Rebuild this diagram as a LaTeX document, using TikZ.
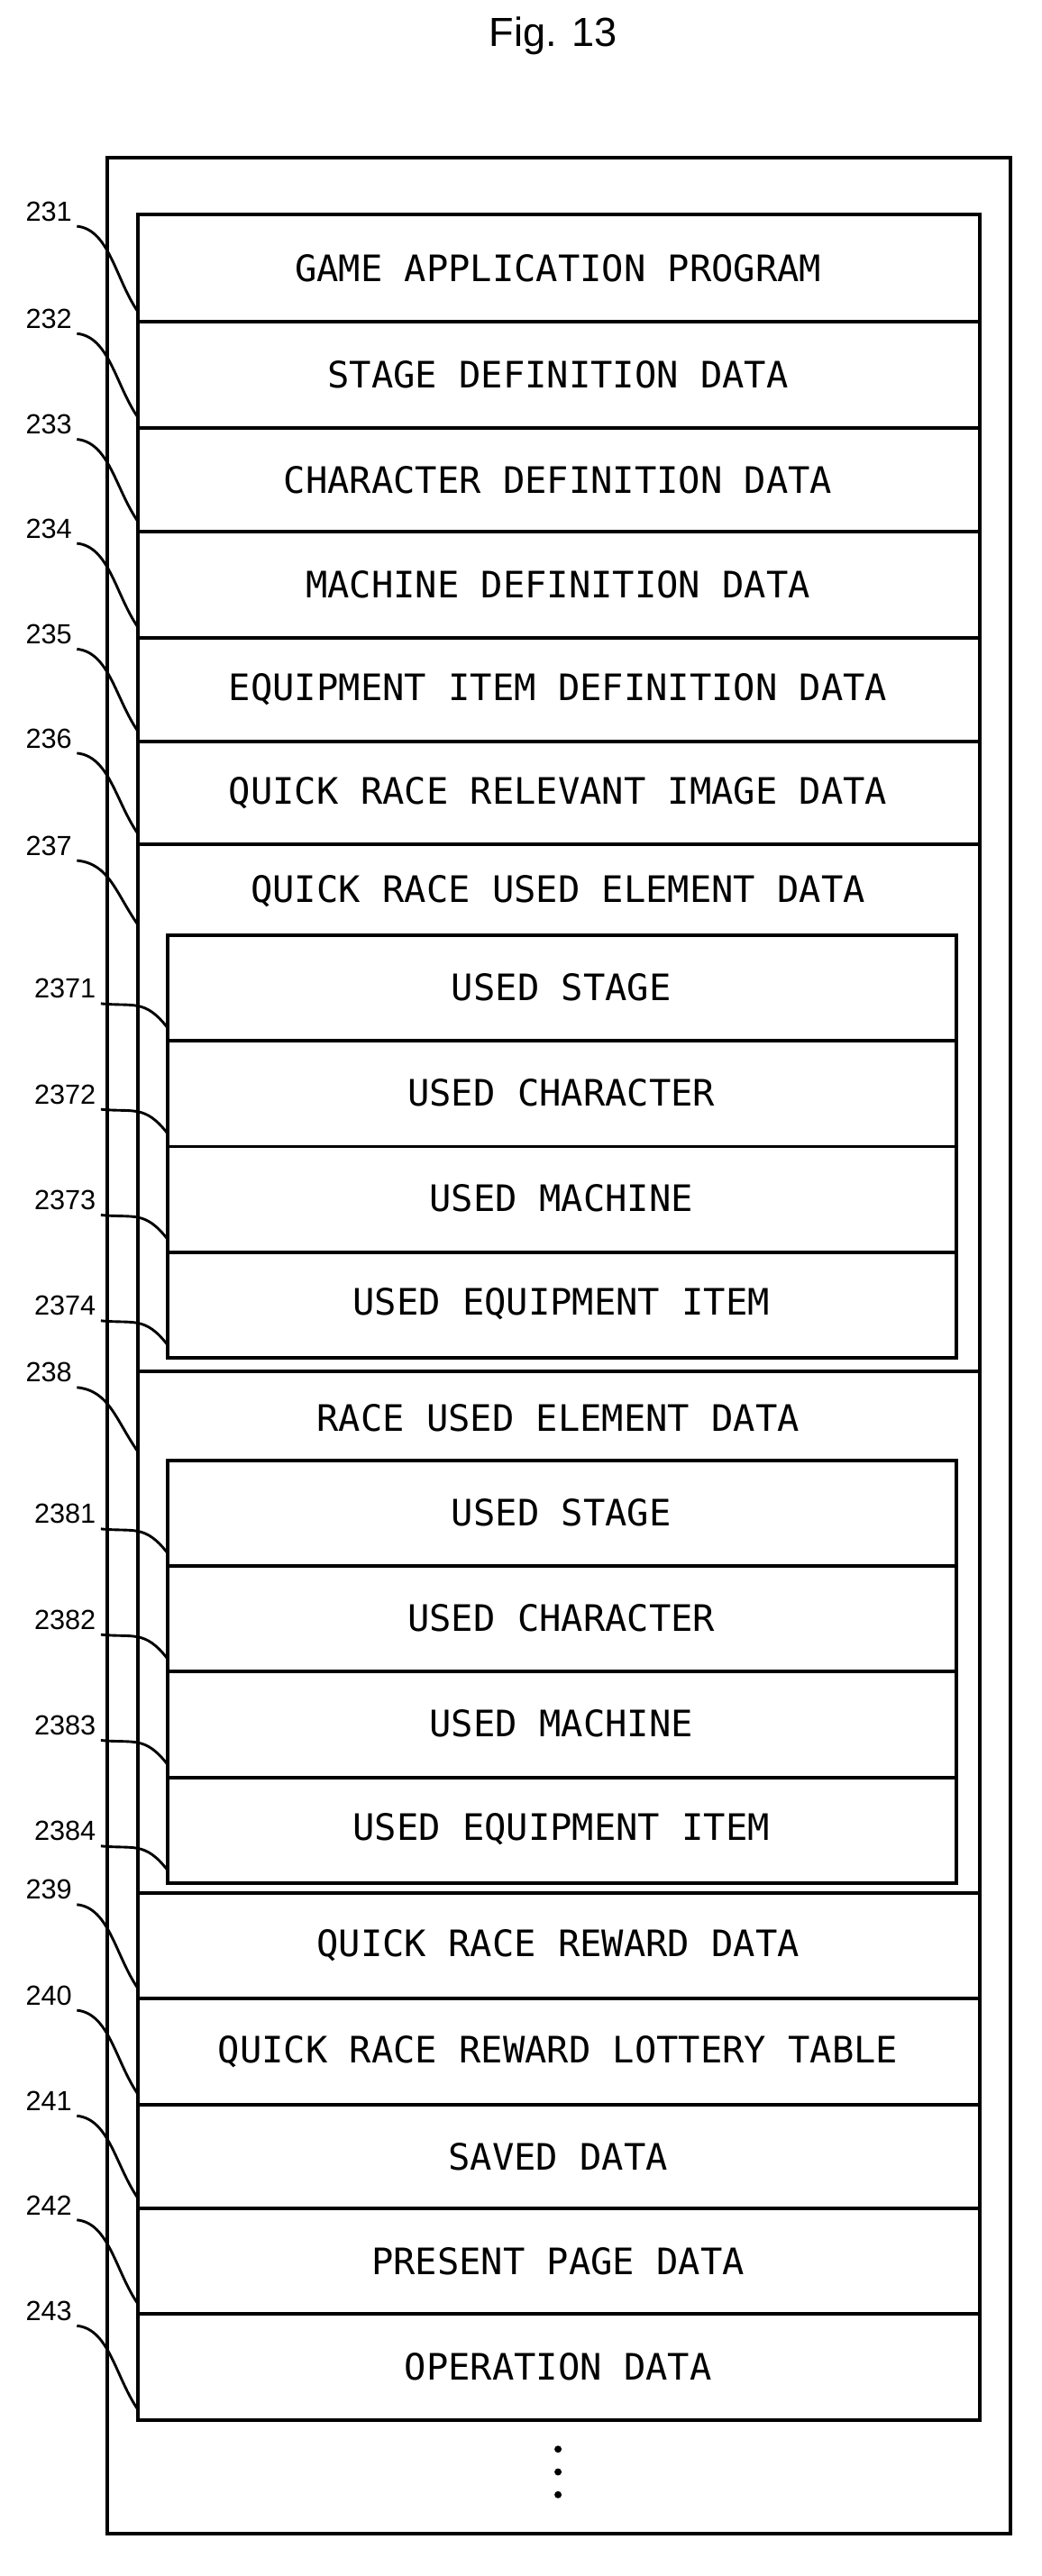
\documentclass[tikz,border=0pt]{standalone}
\usepackage{fontspec}
\setmonofont{DejaVu Sans Mono}
\setsansfont{Liberation Sans}
\begin{document}
\begin{tikzpicture}[x=0.5pt,y=-0.5pt,line width=1.1pt,
    rowtext/.style={font=\ttfamily\fontsize{11.2}{13}\selectfont},
    numlbl/.style={font=\sffamily\fontsize{8.5}{10}\selectfont, inner sep=1pt},
    leader/.style={line width=0.8pt}]
\useasboundingbox (0,0) rectangle (640,1584);
                % Title:
                \node[font=\sffamily\fontsize{12.5}{14}\selectfont] (fig) at (340,22) {Fig. 13};

                % Outer frame:
                \draw (66,97) rectangle (621,1558);

                % Rows:
                \foreach \n/\top/\bot/\txt in {231/132/198/GAME APPLICATION PROGRAM,
                    232/198/263/STAGE DEFINITION DATA, 233/263/327/CHARACTER DEFINITION DATA,
                    234/327/392/MACHINE DEFINITION DATA, 235/392/456/EQUIPMENT ITEM DEFINITION DATA,
                    236/456/519/QUICK RACE RELEVANT IMAGE DATA, 239/1164/1229/QUICK RACE REWARD DATA,
                    240/1229/1294/QUICK RACE REWARD LOTTERY TABLE, 241/1294/1358/SAVED DATA,
                    242/1358/1423/PRESENT PAGE DATA, 243/1423/1488/OPERATION DATA} {
                    \draw (85,\top) rectangle (602,\bot);
                    \node[rowtext] (r\n) at (343,{(\top+\bot)/2}) {\txt};
                    \node[numlbl] (l\n) at (30,\top-2) {\n};
                    \coordinate (e\n) at (85,\bot-6);
                    \draw[leader] (l\n.south east) .. controls +(20,2) and +(-14,-20) .. (e\n);
                }

                % Groups:
                \foreach \n/\top/\bot/\txt in {237/519/843/QUICK RACE USED ELEMENT DATA,
                    238/843/1164/RACE USED ELEMENT DATA} {
                    \draw (85,\top) rectangle (602,\bot);
                    \node[rowtext] (r\n) at (343,\top+29) {\txt};
                    \node[numlbl] (l\n) at (30,\top+1) {\n};
                    \coordinate (e\n) at (85,\top+50);
                    \draw[leader] (l\n.south east) .. controls +(20,2) and +(-14,-20) .. (e\n);
                }

                % Sub rows:
                \foreach \g/\first in {237/575, 238/898} {
                    \foreach \k/\txt [evaluate=\k as \top using {\first+(\k-1)*65}] in
                        {1/USED STAGE, 2/USED CHARACTER, 3/USED MACHINE, 4/USED EQUIPMENT ITEM} {
                        \draw (103,\top) rectangle (588,\top+65);
                        \node[rowtext] (r\g\k) at (345,\top+32) {\txt};
                        \node[numlbl] (l\g\k) at (40,\top+33) {\g\k};
                        \coordinate (e\g\k) at (103,\top+57);
                        \draw[leader] (l\g\k.south east) .. controls +(20,2) and +(-14,-18) .. (e\g\k);
                    }
                }

                % Continuation:
                \foreach \y in {1506,1520,1534}
                    \fill (343,\y) circle (2.2);
\end{tikzpicture}
\end{document}
